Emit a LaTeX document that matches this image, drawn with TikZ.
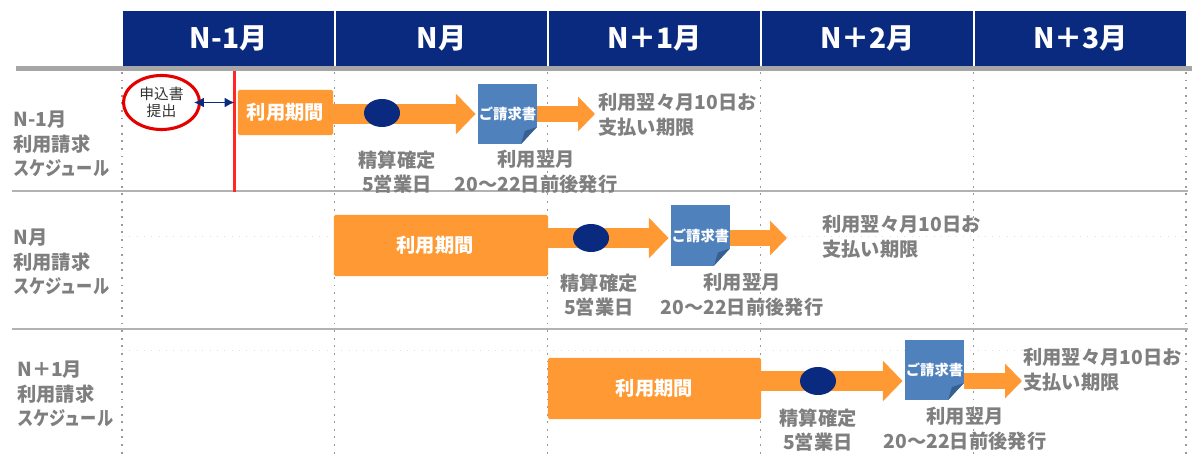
\documentclass[tikz,border=0pt]{standalone}
\usepackage{fontspec}
\setmainfont{Noto Sans CJK JP}
\usetikzlibrary{arrows.meta,shapes.geometric}
\definecolor{headblue}{HTML}{0A2A7F}
\definecolor{useorange}{HTML}{FF9933}
\definecolor{docblue}{HTML}{4F81BD}
\definecolor{folddark}{HTML}{376092}
\definecolor{labelgray}{HTML}{7F7F7F}
\newcommand{\schedword}{\scalebox{0.84}[1]{スケジュール}}
\newcommand{\widetilda}{\symbol{"FF5E}}
\newcommand{\wideplus}{\symbol{"FF0B}}
\begin{document}
\begin{tikzpicture}[x=0.025cm,y=-0.025cm,
  monthbox/.style={fill=headblue,text=white,font=\bfseries\fontsize{20}{24}\selectfont,minimum width=5.275cm,minimum height=1.375cm,inner sep=0pt},
  usebox/.style={fill=useorange,rounded corners=1pt,text=white,font=\bfseries\fontsize{13.7}{16}\selectfont,inner sep=0pt},
  docbox/.style={fill=docblue,text=white,font=\bfseries\fontsize{10.2}{12}\selectfont,minimum width=1.475cm,minimum height=1.5cm,inner sep=0pt},
  settle/.style={ellipse,fill=headblue,minimum width=0.9cm,minimum height=0.7cm,inner sep=0pt},
  graylabel/.style={text=labelgray,font=\bfseries\fontsize{13.7}{17.6}\selectfont,align=left,anchor=west,inner sep=0pt},
  graycenter/.style={text=labelgray,font=\bfseries\fontsize{13.7}{17.6}\selectfont,align=center,inner sep=0pt},
  bigarrow/.style={useorange,line width=14pt,shorten >=1.5pt,-{Triangle[length=14pt,width=28pt]}},
  smallarrow/.style={useorange,line width=11pt,-{Triangle[length=12pt,width=24pt]}},
  griddots/.style={gray!80,line width=1.3pt,dash pattern=on 1.3pt off 4.1pt},
  faintdots/.style={gray!25,line width=0.7pt,dash pattern=on 0.7pt off 4.5pt}]
\useasboundingbox (0,0) rectangle (1202,459);
% month columns
\draw[griddots] (122,72) -- (122,459);
\draw[griddots] (334.5,72) -- (334.5,459);
\draw[griddots] (547.5,72) -- (547.5,459);
\draw[griddots] (760.5,72) -- (760.5,459);
\draw[griddots] (973.5,72) -- (973.5,459);
\draw[griddots] (1186,72) -- (1186,459);
\draw[faintdots] (122,236) -- (1186,236);
\draw[faintdots] (122,350) -- (1186,350);
\draw[gray!60,line width=1pt] (12,191) -- (1188,191);
\draw[gray!60,line width=1pt] (12,329) -- (1188,329);
\node[monthbox] (monthA) at (228.5,38.5) {N-1月};
\node[monthbox] (monthB) at (441.5,38.5) {N月};
\node[monthbox] (monthC) at (654.5,38.5) {N\wideplus 1月};
\node[monthbox] (monthD) at (867.5,38.5) {N\wideplus 2月};
\node[monthbox] (monthE) at (1080.5,38.5) {N\wideplus 3月};
\fill[gray!70] (16,66) rectangle (1192,71);
% row N-1
\node[graylabel] (rowA) at (13,144) {N-1月\\利用請求\\\schedword};
\coordinate (redtop) at (234.5,71);
\coordinate (redend) at (234.5,192);
\draw[red!85!white,line width=2pt] (redtop) -- (redend);
\node[ellipse,draw=red!90!black,line width=2.2pt,minimum width=1.9cm,minimum height=1.35cm,inner sep=0pt,align=center,font=\fontsize{10.5}{12.5}\selectfont,text=black!80] (apply) at (161.5,102.5) {申込書\\提出};
\draw[{Latex[length=7pt,width=7pt]}-{Latex[length=7pt,width=7pt]},headblue,line width=1pt,shorten <=-5pt] (apply.east) -- (apply.east -| redtop);
\node[usebox,minimum width=2.375cm,minimum height=1.125cm] (useA) at (285.5,112.5) {利用期間};
\node[docbox] (docA) at (507.5,114) {ご請求書};
\draw[bigarrow] (useA.east |- docA) -- (docA.west);
\coordinate (tipA) at (595,114);
\draw[smallarrow] (docA.east) -- (tipA);
\node[settle] (dotA) at (382,113) {};
\fill[white] (537,127) -- (537,144.5) -- (521,144.5) --cycle;
\fill[folddark] (537,127) -- (521,144) -- (525,131) --cycle;
\node[graycenter] (calcA) at (397,172) {精算確定\\5営業日};
\node[graycenter] (issueA) at (536,172) {利用翌月\\20\widetilda 22日前後発行};
\node[graylabel] (dueA) at (598,115) {利用翌々月10日お\\支払い期限};
% row N
\node[graylabel] (rowB) at (13,262) {N月\\利用請求\\\schedword};
\node[usebox,minimum width=5.35cm,minimum height=1.525cm] (useB) at (441,245.5) {利用期間\kern8.5pt\relax};
\node[docbox] (docB) at (700.5,235.5) {ご請求書};
\coordinate (flowB) at (600,238);
\draw[bigarrow] (useB.east |- flowB) -- (docB.west |- flowB);
\coordinate (tipB) at (787,238);
\draw[smallarrow] (docB.east |- flowB) -- (tipB);
\node[settle] (dotB) at (591,238) {};
\fill[white] (730,248.5) -- (730,266) -- (714,266) --cycle;
\fill[folddark] (730,248.5) -- (714,265.5) -- (718,252.5) --cycle;
\node[graycenter] (calcB) at (599,295) {精算確定\\5営業日};
\node[graycenter] (issueB) at (742,295) {利用翌月\\20\widetilda 22日前後発行};
\node[graylabel] (dueB) at (822,237) {利用翌々月10日お\\支払い期限};
% row N+1
\node[graylabel] (rowC) at (17,394) {N\wideplus 1月\\利用請求\\\schedword};
\node[usebox,minimum width=5.325cm,minimum height=1.525cm] (useC) at (654.5,388.5) {利用期間};
\node[docbox] (docC) at (934.5,370) {ご請求書};
\coordinate (flowC) at (800,381);
\draw[bigarrow] (useC.east |- flowC) -- (docC.west |- flowC);
\coordinate (tipC) at (1022,381);
\draw[smallarrow] (docC.east |- flowC) -- (tipC);
\node[settle] (dotC) at (818,381) {};
\fill[white] (964,383) -- (964,400.5) -- (948,400.5) --cycle;
\fill[folddark] (964,383) -- (948,400) -- (952,387) --cycle;
\node[graycenter] (calcC) at (818,430) {精算確定\\5営業日};
\node[graycenter] (issueC) at (965,429) {利用翌月\\20\widetilda 22日前後発行};
\node[graylabel] (dueC) at (1023,370) {利用翌々月10日お\\支払い期限};
\end{tikzpicture}
\end{document}
